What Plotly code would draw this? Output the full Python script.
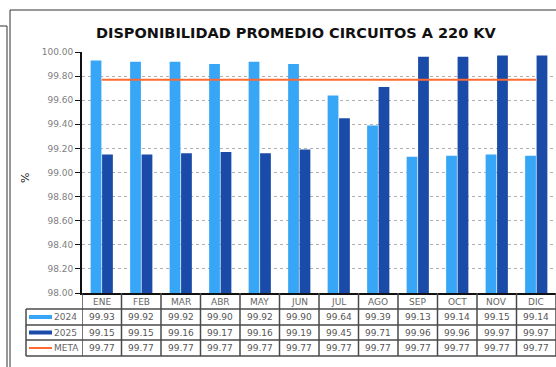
import plotly.graph_objects as go

months = ["ENE", "FEB", "MAR", "ABR", "MAY", "JUN", "JUL", "AGO", "SEP", "OCT", "NOV", "DIC"]
v2024 = [99.93, 99.92, 99.92, 99.90, 99.92, 99.90, 99.64, 99.39, 99.13, 99.14, 99.15, 99.14]
v2025 = [99.15, 99.15, 99.16, 99.17, 99.16, 99.19, 99.45, 99.71, 99.96, 99.96, 99.97, 99.97]
meta = [99.77] * 12
series_names = ["2024", "2025", "META"]
title = "DISPONIBILIDAD PROMEDIO CIRCUITOS A 220 KV"

W, H = 556, 367
L, R, T, B = 82, 0, 52, 74
PW, PH = W - L - R, H - T - B

def px(x):
    return (x - L) / PW

def py(y):
    return (H - B - y) / PH

C2024 = "#37a6f6"
C2025 = "#1a4ba8"
CMETA = "#ff6a30"
FONT = "DejaVu Sans"
GRAY = "#666666"

fig = go.Figure()
fig.add_trace(go.Bar(x=months, y=v2024, name="2024", marker=dict(color=C2024, line=dict(width=0))))
fig.add_trace(go.Bar(x=months, y=v2025, name="2025", marker=dict(color=C2025, line=dict(width=0))))
fig.add_trace(go.Scatter(x=months, y=meta, name="META", mode="lines", line=dict(color=CMETA, width=2)))

shapes = []
annotations = []

# table row lines
rows_y = [309, 325, 340, 356]
for yy in rows_y:
    shapes.append(dict(type="line", xref="paper", yref="paper", x0=px(26), x1=1, y0=py(yy), y1=py(yy),
                       line=dict(color="#4a4a4a", width=1.5)))
# vertical lines at category boundaries
for i in range(len(months) + 1):
    shapes.append(dict(type="line", xref="x", yref="paper", x0=i - 0.5, x1=i - 0.5, y0=0, y1=py(356),
                       line=dict(color="#4a4a4a", width=1.5)))
# left legend column border
shapes.append(dict(type="line", xref="paper", yref="paper", x0=px(26), x1=px(26), y0=py(309), y1=py(356),
                   line=dict(color="#4a4a4a", width=1.5)))

# header month labels and values
row_centers = [301.5, 317, 332.5, 348]
for i, m in enumerate(months):
    annotations.append(dict(x=m, y=py(row_centers[0]), xref="x", yref="paper", text=m, showarrow=False,
                            xanchor="center", yanchor="middle",
                            font=dict(family=FONT, size=9, color=GRAY)))
    for r, vals in enumerate([v2024, v2025, meta]):
        annotations.append(dict(x=m, y=py(row_centers[r + 1]), xref="x", yref="paper", text=f"{vals[i]:.2f}",
                                showarrow=False, xanchor="center", yanchor="middle",
                                font=dict(family=FONT, size=9, color="#555555")))

# legend swatches + labels
sw_colors = [C2024, C2025, CMETA]
sw_width = [4, 4, 2]
for r, (nm, c, w) in enumerate(zip(series_names, sw_colors, sw_width)):
    yy = py(row_centers[r + 1])
    shapes.append(dict(type="line", xref="paper", yref="paper", x0=px(29), x1=px(52), y0=yy, y1=yy,
                       line=dict(color=c, width=w)))
    annotations.append(dict(x=px(52), y=yy, xref="paper", yref="paper", text=nm, showarrow=False,
                            xanchor="left", yanchor="middle", font=dict(family=FONT, size=9, color=GRAY)))

# title
annotations.append(dict(x=px(296), y=py(33), xref="paper", yref="paper", text="<b>" + title + "</b>",
                        showarrow=False, xanchor="center", yanchor="middle",
                        font=dict(family=FONT, size=14.5, color="#111111")))
# y axis title
annotations.append(dict(x=px(25), y=py(178), xref="paper", yref="paper", text="%", textangle=-90,
                        showarrow=False, xanchor="center", yanchor="middle",
                        font=dict(family=FONT, size=11, color="#222222")))

# outer frame
frame = dict(color="#333333", width=1)
shapes.append(dict(type="line", xref="paper", yref="paper", x0=px(10), x1=px(556), y0=py(10), y1=py(10), line=frame))
shapes.append(dict(type="line", xref="paper", yref="paper", x0=px(10), x1=px(10), y0=py(10), y1=py(367), line=frame))
shapes.append(dict(type="line", xref="paper", yref="paper", x0=px(0), x1=px(7), y0=py(26), y1=py(26), line=frame))
shapes.append(dict(type="line", xref="paper", yref="paper", x0=px(7), x1=px(7), y0=py(26), y1=py(367), line=frame))

fig.update_layout(
    width=W, height=H,
    margin=dict(l=L, r=R, t=T, b=B),
    paper_bgcolor="white", plot_bgcolor="white",
    showlegend=False,
    barmode="group", bargap=0.42, bargroupgap=0.06,
    shapes=shapes, annotations=annotations,
    xaxis=dict(showticklabels=False, showgrid=False, showline=True, linecolor="#111111", linewidth=2,
               ticks="", range=[-0.5, 11.5], fixedrange=True),
    yaxis=dict(range=[98, 100], dtick=0.2, tickformat=".2f", showgrid=True, gridcolor="#b0b0b0",
               griddash="dot", gridwidth=1, showline=True, linecolor="#111111", linewidth=2,
               ticks="outside", ticklen=5, tickcolor="#111111",
               tickfont=dict(family=FONT, size=9, color="#808080"), zeroline=False),
)

fig.write_html("out.html")
